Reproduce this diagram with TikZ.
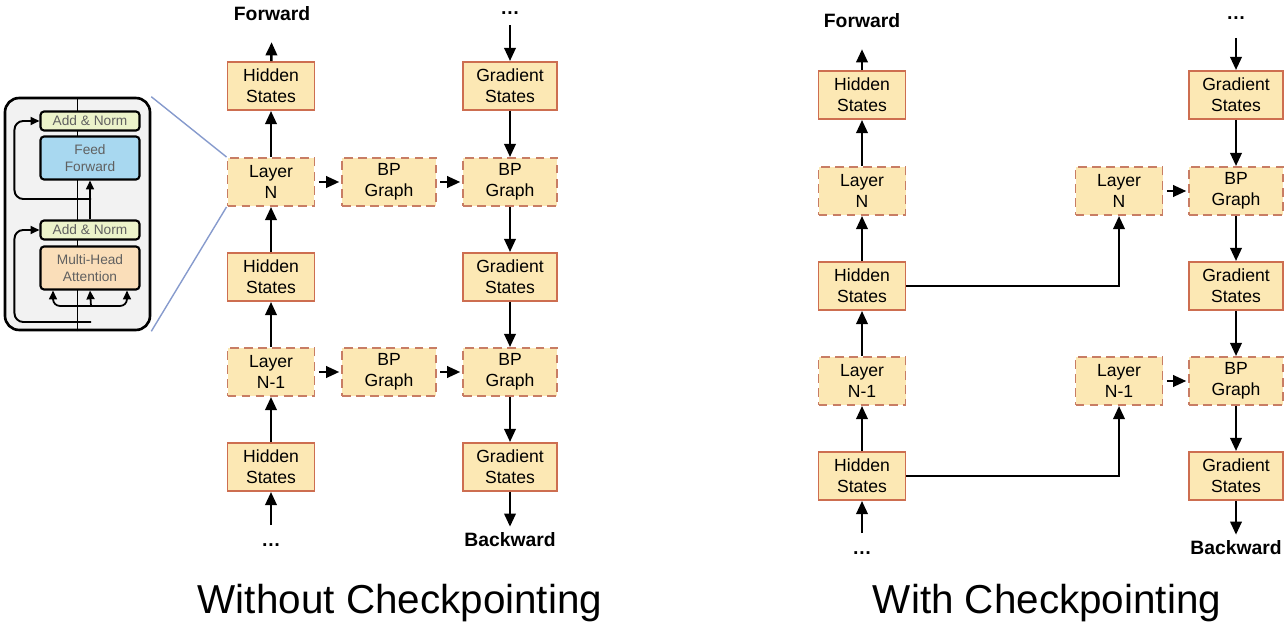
\documentclass[tikz,border=0pt]{standalone}
\usepackage{fontspec}
\setmainfont{Liberation Sans}
\usetikzlibrary{arrows.meta}

\begin{document}
\begin{tikzpicture}[x=0.02cm, y=-0.02cm,
    hstate/.style={draw=my-red, fill=my-yellow, line width=1.1pt, minimum width=1.74cm,
      minimum height=0.96cm, inner sep=0pt, align=center, font=\fontsize{10}{12}\selectfont},
    dashbox/.style={hstate, draw=my-dash, dash pattern=on 5pt off 3pt},
    wide/.style={minimum width=1.88cm},
    lbl/.style={font=\fontsize{11}{13}\selectfont\bfseries},
    heading/.style={font=\fontsize{23}{27}\selectfont},
    flow/.style={line width=1.4pt, -{Triangle[length=7.5pt,width=6.5pt]}},
    inbox/.style={draw=black, line width=1.2pt, rounded corners=2pt, minimum width=1.98cm,
      inner sep=0pt, align=center, text=gray!75!black, font=\fontsize{7.8}{9.5}\selectfont},
    inflow/.style={line width=1pt, -{Triangle[length=5pt,width=4.5pt]}}]
    \definecolor{my-yellow}{RGB}{252,232,180}
    \definecolor{my-red}{RGB}{205,110,80}
    \definecolor{my-dash}{RGB}{200,125,100}
    \definecolor{my-panel}{RGB}{242,242,242}
    \definecolor{my-green}{RGB}{236,243,202}
    \definecolor{my-blue}{RGB}{168,216,240}
    \definecolor{my-peach}{RGB}{250,222,185}
    \definecolor{my-line}{RGB}{135,155,205}
    \useasboundingbox (0,0) rectangle (1288,628);

    \node[draw, line width=1.5pt, fill=my-panel, rounded corners=8pt, minimum width=2.9cm, minimum height=4.64cm] (panel) at (77.5,214) {};
    \draw[line width=1.1pt] (panel.south) -- (panel.north);
    \node[inbox, fill=my-green, minimum height=0.38cm] (an2) at (90,121) {Add \& Norm};
    \node[inbox, fill=my-blue, minimum height=0.86cm] (ff) at (90,158) {Feed\\Forward};
    \node[inbox, fill=my-green, minimum height=0.38cm] (an1) at (90,230) {Add \& Norm};
    \node[inbox, fill=my-peach, minimum height=0.86cm] (mha) at (90,268) {Multi-Head\\Attention};
    \coordinate (split2) at (91,199);
    \coordinate (split1) at (91,322);
    \coordinate (fork) at (91,306);
    \draw[inflow] (an1.north) -- (ff.south);
    \draw[inflow, line width=1.1pt, rounded corners=5pt] (split2) -| ([xshift=-0.5cm]an2.west) -- (an2.west);
    \draw[inflow, line width=1.1pt, rounded corners=5pt] (split1) -| ([xshift=-0.5cm]an1.west) -- (an1.west);
    \draw[inflow, rounded corners=4pt] (fork) -| ([xshift=-0.74cm]mha.south);
    \draw[inflow, rounded corners=4pt] (fork) -| ([xshift=0.74cm]mha.south);
    \draw[inflow] (fork) -- (mha.south);

    \node[lbl] (fwdA) at (272,14) {Forward};
    \node[hstate] (hA1) at (271,86) {Hidden\\States};
    \node[dashbox] (lA1) at (271,182) {Layer\\N};
    \node[hstate] (hA2) at (271,277) {Hidden\\States};
    \node[dashbox] (lA2) at (271,372) {Layer\\N-1};
    \node[hstate] (hA3) at (271,467) {Hidden\\States};
    \node[lbl] (dotsA) at (271,545) {\dots};
    \node[dashbox, wide] (bA1) at (389,182) {BP\\Graph};
    \node[dashbox, wide] (bA2) at (389,372) {BP\\Graph};
    \node[lbl, inner sep=1pt] (topA) at (510,13) {\dots};
    \node[hstate, wide] (gA1) at (510,86) {Gradient\\States};
    \node[dashbox, wide] (cA1) at (510,182) {BP\\Graph};
    \node[hstate, wide] (gA2) at (510,277) {Gradient\\States};
    \node[dashbox, wide] (cA2) at (510,372) {BP\\Graph};
    \node[hstate, wide] (gA3) at (510,467) {Gradient\\States};
    \node[lbl] (bwdA) at (510,540) {Backward};
    \node[heading] (titleA) at (400,603) {Without Checkpointing};

    \draw[my-line, line width=0.8pt] (panel.north east) -- (lA1.north west);
    \draw[my-line, line width=0.8pt] (panel.south east) -- (lA1.south west);

    \draw[flow, shorten >=8.5pt] (hA1) -- (fwdA);
    \draw[flow] (lA1) -- (hA1);
    \draw[flow] (hA2) -- (lA1);
    \draw[flow] (lA2) -- (hA2);
    \draw[flow] (hA3) -- (lA2);
    \draw[flow, shorten <=7pt] (dotsA) -- (hA3);
    \draw[flow, shorten <=5pt] (topA) -- (gA1);
    \draw[flow] (gA1) -- (cA1);
    \draw[flow] (cA1) -- (gA2);
    \draw[flow] (gA2) -- (cA2);
    \draw[flow] (cA2) -- (gA3);
    \draw[flow] (gA3) -- (bwdA);
    \draw[flow, shorten <=2pt, shorten >=1pt] (lA1) -- (bA1);
    \draw[flow, shorten <=2pt, shorten >=1pt] (bA1) -- (cA1);
    \draw[flow, shorten <=2pt, shorten >=1pt] (lA2) -- (bA2);
    \draw[flow, shorten <=2pt, shorten >=1pt] (bA2) -- (cA2);

    \node[lbl] (fwdB) at (862,21) {Forward};
    \node[hstate] (hB1) at (862,95) {Hidden\\States};
    \node[dashbox] (lB1) at (862,191) {Layer\\N};
    \node[hstate] (hB2) at (862,286) {Hidden\\States};
    \node[dashbox] (lB2) at (862,381) {Layer\\N-1};
    \node[hstate] (hB3) at (862,476) {Hidden\\States};
    \node[lbl] (dotsB) at (862,553) {\dots};
    \node[dashbox] (rB1) at (1119,191) {Layer\\N};
    \node[dashbox] (rB2) at (1119,381) {Layer\\N-1};
    \node[lbl] (topB) at (1236,18) {\dots};
    \node[hstate, wide] (gB1) at (1236,95) {Gradient\\States};
    \node[dashbox, wide] (pB1) at (1236,191) {BP\\Graph};
    \node[hstate, wide] (gB2) at (1236,286) {Gradient\\States};
    \node[dashbox, wide] (pB2) at (1236,381) {BP\\Graph};
    \node[hstate, wide] (gB3) at (1236,476) {Gradient\\States};
    \node[lbl] (bwdB) at (1236,548) {Backward};
    \node[heading] (titleB) at (1047,603) {With Checkpointing};

    \draw[flow, shorten >=8.5pt] (hB1) -- (fwdB);
    \draw[flow] (lB1) -- (hB1);
    \draw[flow] (hB2) -- (lB1);
    \draw[flow] (lB2) -- (hB2);
    \draw[flow] (hB3) -- (lB2);
    \draw[flow, shorten <=7pt] (dotsB) -- (hB3);
    \draw[flow, shorten <=7pt] (topB) -- (gB1);
    \draw[flow] (gB1) -- (pB1);
    \draw[flow] (pB1) -- (gB2);
    \draw[flow] (gB2) -- (pB2);
    \draw[flow] (pB2) -- (gB3);
    \draw[flow] (gB3) -- (bwdB);
    \draw[flow] (hB2.east) -| (rB1.south);
    \draw[flow] (hB3.east) -| (rB2.south);
    \draw[flow, shorten <=2pt, shorten >=1pt] (rB1) -- (pB1);
    \draw[flow, shorten <=2pt, shorten >=1pt] (rB2) -- (pB2);
  \end{tikzpicture}
\end{document}
